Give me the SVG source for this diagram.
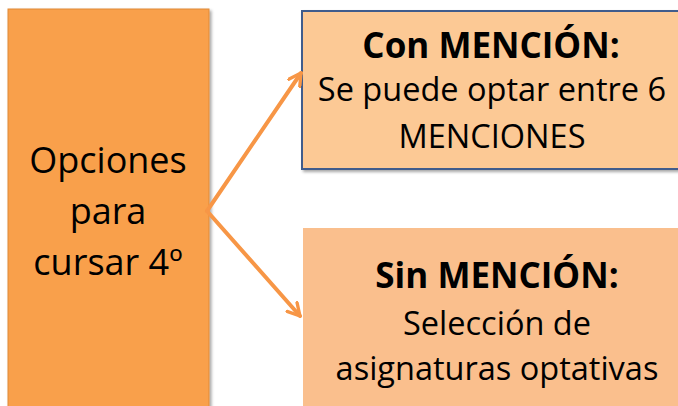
<svg xmlns="http://www.w3.org/2000/svg" width="678" height="406" viewBox="0 0 678 406">
<style>
.t{font-family:"Open Sans","Liberation Sans",sans-serif;fill:#000;text-anchor:middle}
.b{font-weight:bold;font-size:35px}
.n{font-size:32.5px}
.l{font-size:36px}
.conn{stroke:#f79646;stroke-width:4;fill:none;stroke-linecap:round}
</style>
<defs>
<marker id="ah" viewBox="0 0 12 12" refX="10" refY="6" markerWidth="4" markerHeight="4" orient="auto" markerUnits="strokeWidth">
<path d="M1,1 L10,6 L1,11" fill="none" stroke="#f79646" stroke-width="2.5" stroke-linecap="round" stroke-linejoin="round"/>
</marker>
<filter id="sh" x="-10%" y="-10%" width="130%" height="130%">
<feDropShadow dx="2" dy="2" stdDeviation="1.5" flood-color="#000" flood-opacity="0.35"/>
</filter>
</defs>
<g id="left">
<rect x="8" y="9" width="201" height="410" fill="#f9a04b" stroke="#e08a38" stroke-width="1" filter="url(#sh)"/>
<text class="t l" x="108" y="173">Opciones</text>
<text class="t l" x="108" y="224">para</text>
<text class="t l" x="108" y="275">cursar 4º</text>
</g>
<g id="con">
<rect x="302" y="11" width="380" height="158" fill="#fcc995" stroke="#3f5c8c" stroke-width="2" filter="url(#sh)"/>
<text class="t b" x="491" y="58">Con MENCIÓN:</text>
<text class="t n" x="492" y="101">Se puede optar entre 6</text>
<text class="t n" x="492" y="148">MENCIONES</text>
</g>
<g id="sin">
<rect x="303" y="228" width="380" height="190" fill="#fabf8d"/>
<text class="t b" x="497" y="288">Sin MENCIÓN:</text>
<text class="t n" x="497" y="335">Selección de</text>
<text class="t n" x="497" y="380">asignaturas optativas</text>
</g>
<g id="connectors">
<line class="conn" x1="207" y1="211" x2="301" y2="73" marker-end="url(#ah)"/>
<line class="conn" x1="207" y1="211" x2="300" y2="316" marker-end="url(#ah)"/>
</g>
</svg>
